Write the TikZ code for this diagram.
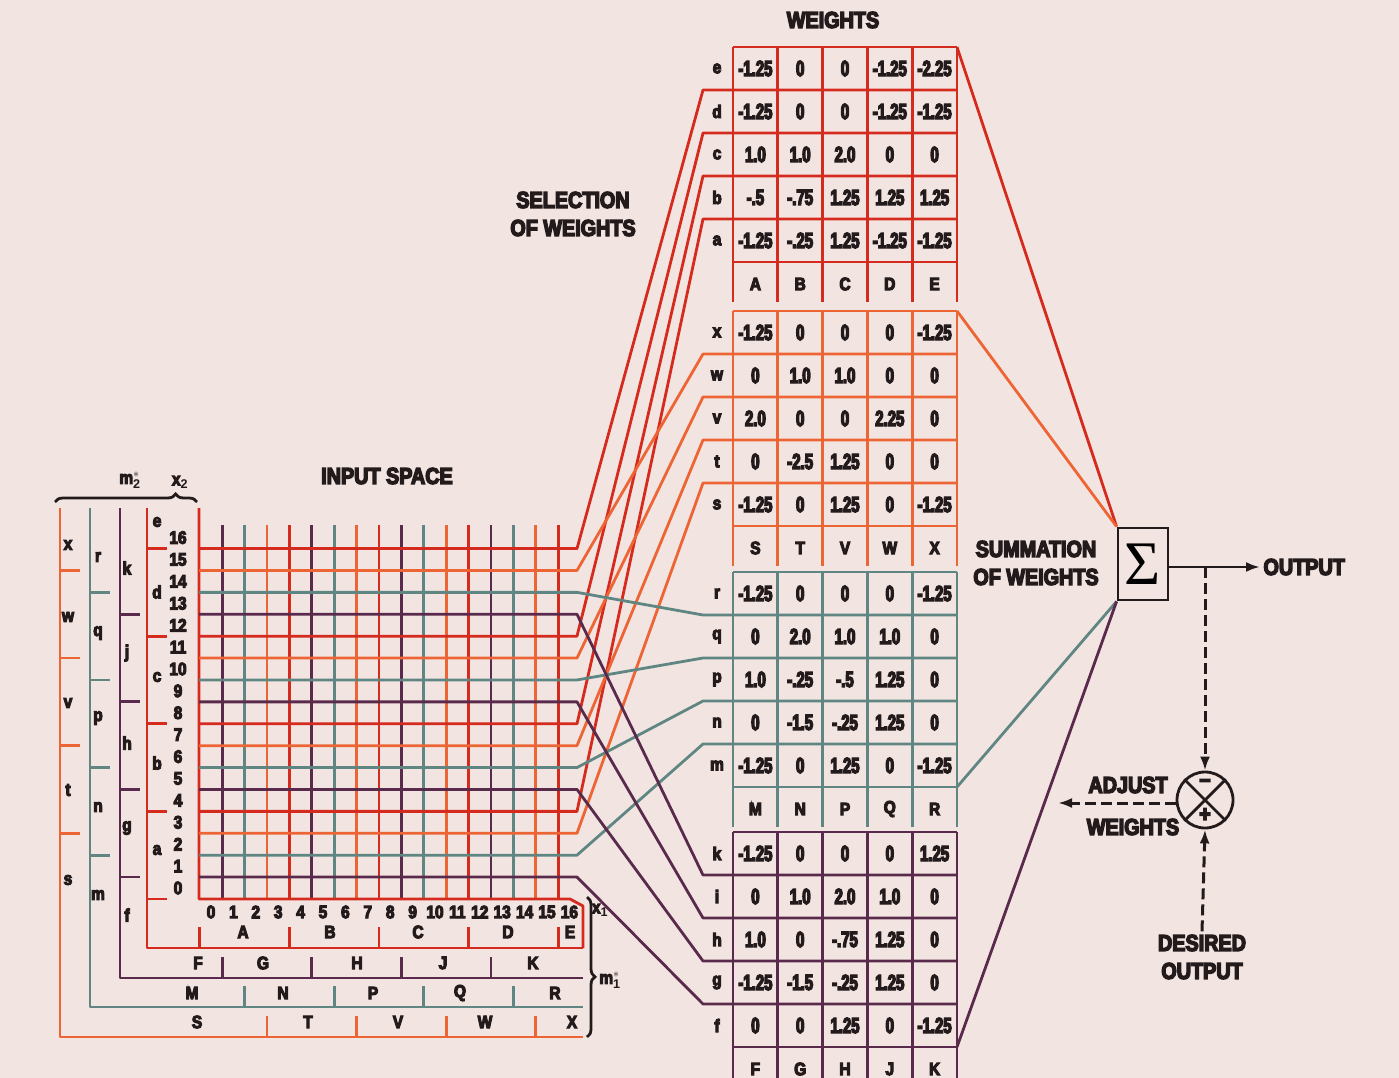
\documentclass[tikz,border=0pt]{standalone}
\usepackage{fontspec}
\usepackage{graphicx}
\setmainfont{Liberation Sans}
\newfontfamily\numfont{Liberation Sans}[UprightFont={* Bold},BoldFont={* Bold},FakeStretch=0.68,FakeBold=6]
\newfontfamily\capfont{Liberation Sans}[UprightFont={* Bold},BoldFont={* Bold},FakeStretch=0.86,FakeBold=6]
\newfontfamily\sigfont{Liberation Serif}
\usetikzlibrary{arrows.meta,decorations.pathreplacing}
\definecolor{paper}{HTML}{F2E5E1}
\definecolor{qred}{HTML}{D52B1E}
\definecolor{qorange}{HTML}{EE6535}
\definecolor{qgreen}{HTML}{5F8683}
\definecolor{qpurple}{HTML}{5A2A4C}
\definecolor{ink}{HTML}{231A1C}

\tikzset{
  wire/.style={line width=2.8pt, line join=round},
  numtext/.style={font=\numfont\fontsize{22}{22}\selectfont, text=ink, inner sep=1pt},
  lettext/.style={font=\capfont\fontsize{18}{18}\selectfont, text=ink, inner sep=1pt},
  captext/.style={font=\capfont\fontsize{23}{28}\selectfont, text=ink, align=center},
  dashwire/.style={line width=3pt, ink, dash pattern=on 11pt off 5pt},
}

% one weight table: name, top, colour, row labels, column labels, values
\newcommand\wtable[6]{%
  \begin{scope}[shift={(0,#2)}]
    \draw[wire,#3] (733,0) -- (957,0) (733,215) -- (957,215);
    \foreach \i in {0,...,5} \draw[wire,#3] ({733+44.8*\i},0) -- ++(0,255);
    \foreach \l [count=\j from 0] in {#4}
      \node[lettext] (#1-r\j) at (717,{21.5+43*\j}) {\l};
    \foreach \l [count=\i from 0] in {#5}
      \node[lettext] (#1-c\i) at ({755.4+44.8*\i},237) {\l};
    \foreach \row [count=\j from 0] in {#6}
      \foreach \v [count=\i from 0] in \row
        \node[numtext] (#1-\j-\i) at ({755.4+44.8*\i},{21.5+43*\j}) {\v};
    \coordinate (#1-ne) at (957,0);
    \coordinate (#1-se) at (957,215);
  \end{scope}}

\begin{document}
\begin{tikzpicture}[x=1pt,y=-1pt]
  \fill[paper] (0,0) rectangle (1399,1078);
  \useasboundingbox (0,0) rectangle (1399,1078);

  % quantizer strips for x2 (left) and x1 (bottom)
  \draw[wire,qorange] (60,508) -- (60,1037) -- (583,1037);
  \draw[wire,qgreen] (90,508) -- (90,1007) -- (583,1007);
  \draw[wire,qpurple] (120,508) -- (120,978) -- (583,978);
  \draw[wire,qred] (147,508) -- (147,948) -- (583,948);
  \foreach \c/\xo/\yo/\bz in {qred/147/948/-0.5, qpurple/120/978/0.5, qgreen/90/1007/1.5, qorange/60/1037/2.5}
    \foreach \m in {0,...,3} {
      \draw[wire,\c] (\xo,{888-21.9*(\bz+4*\m)}) -- ++(20,0);
      \draw[wire,\c] ({211+22.4*(\bz+4*\m)},\yo) -- ++(0,-21);
    }
  \draw[wire,qred] (147,{888-21.9*15.5}) -- ++(20,0);
  \draw[wire,qred] ({211+22.4*15.5},948) -- ++(0,-21);

  % input space grid
  \foreach \c/\bz in {qpurple/0.5, qgreen/1.5, qorange/2.5, qred/3.5}
    \foreach \m in {0,...,3}
      \draw[wire,\c] ({211+22.4*(\bz+4*\m)},525) -- ({211+22.4*(\bz+4*\m)},899);
  \draw[wire,qred] (199,508) -- (199,899) -- (570,899) -- (583,906) -- (583,948);

  % selection lines: grid rows to table rows
  \foreach \c/\bz/\T in {qred/15.5/47, qorange/14.5/311, qgreen/13.5/572, qpurple/12.5/832}
    \foreach \j in {1,...,4} {
      \pgfmathsetmacro\yg{888-21.9*(\bz-4*(\j-1))}
      \draw[wire,\c] (199,\yg) -- (577,\yg) -- (703,{\T+43*\j}) -- (957,{\T+43*\j});
    }

  % weight tables
  \wtable{tA}{47}{qred}{e,d,c,b,a}{A,B,C,D,E}{{-1.25,0,0,-1.25,-2.25},{-1.25,0,0,-1.25,-1.25},{1.0,1.0,2.0,0,0},{-.5,-.75,1.25,1.25,1.25},{-1.25,-.25,1.25,-1.25,-1.25}}
  \wtable{tS}{311}{qorange}{x,w,v,t,s}{S,T,V,W,X}{{-1.25,0,0,0,-1.25},{0,1.0,1.0,0,0},{2.0,0,0,2.25,0},{0,-2.5,1.25,0,0},{-1.25,0,1.25,0,-1.25}}
  \wtable{tM}{572}{qgreen}{r,q,p,n,m}{M,N,P,Q,R}{{-1.25,0,0,0,-1.25},{0,2.0,1.0,1.0,0},{1.0,-.25,-.5,1.25,0},{0,-1.5,-.25,1.25,0},{-1.25,0,1.25,0,-1.25}}
  \wtable{tF}{832}{qpurple}{k,i,h,g,f}{F,G,H,J,K}{{-1.25,0,0,0,1.25},{0,1.0,2.0,1.0,0},{1.0,0,-.75,1.25,0},{-1.25,-1.5,-.25,1.25,0},{0,0,1.25,0,-1.25}}

  % axis numbers
  \foreach \v in {0,...,16} {
    \node[lettext] (ylab\v) at (178,{888-21.9*\v}) {\v};
    \node[lettext] (xlab\v) at ({211+22.4*\v},912) {\v};
  }
  % strip letters
  \foreach \l/\x/\y in {x/68/545, w/68/617, v/68/703, t/68/790, s/68/880,
      r/98/557, q/98/633, p/98/718, n/98/807, m/98/895,
      k/127/568, j/127/653, h/127/743, g/127/828, f/127/915,
      e/157/522, d/157/592, c/157/677, b/157/763, a/157/850}
    \node[lettext] (s-\l) at (\x,\y) {\l};
  \foreach \l/\x/\y in {A/243/932, B/330/932, C/418/932, D/508/932, E/570/932,
      F/198/963, G/263/963, H/357/963, J/443/963, K/533/963,
      M/192/993, N/283/993, P/373/993, Q/460/993, R/555/993,
      S/197/1022, T/308/1022, V/398/1022, W/485/1022, X/572/1022}
    \node[lettext] (b-\l) at (\x,\y) {\l};

  % braces and axis names
  \draw[line width=2.8pt, ink, decorate, decoration={brace, amplitude=8pt, aspect=0.85}] (55,502) -- (197,502);
  \draw[line width=2.8pt, ink, decorate, decoration={brace, amplitude=8pt, aspect=0.57}] (587,897) -- (587,1037);
  \node[lettext] (m2) at (130,480) {m$_{\mathbf{2}}^{*}$};
  \node[lettext] (x2) at (180,482) {x$_{\mathbf{2}}$};
  \node[lettext] (x1) at (600,910) {x$_{\mathbf{1}}$};
  \node[lettext] (m1) at (610,980) {m$_{\mathbf{1}}^{*}$};

  % captions
  \node[captext] (wt) at (833,20) {WEIGHTS};
  \node[captext] (sel) at (573,214) {SELECTION\\OF WEIGHTS};
  \node[captext] (inp) at (387,476) {INPUT SPACE};
  \node[captext] (sum) at (1036,563) {SUMMATION\\OF WEIGHTS};

  % summation and learning loop
  \node[draw=ink, line width=2.8pt, minimum width=50pt, minimum height=72pt, inner sep=0pt] (sigma) at (1143,564)
    {\sigfont\fontsize{62}{62}\selectfont\raisebox{-2pt}{Σ}};
  \draw[wire,qred] (tA-ne) -- (sigma.north west);
  \draw[wire,qorange] (tS-ne) -- (sigma.north west);
  \draw[wire,qgreen] (tM-se) -- (sigma.south west);
  \draw[wire,qpurple] (tF-se) -- (sigma.south west);

  \node[captext, anchor=west] (out) at (1260,567) {OUTPUT};
  \draw[line width=2.8pt, ink, -{Latex[length=14pt,width=10pt]}] (sigma.east |- out.west) -- (out.west);
  \coordinate (tap) at (1205,567);
  \node[circle, draw=ink, line width=2.8pt, minimum size=56pt, inner sep=0pt] (cmp) at (1205,800) {};
  \draw[line width=2.8pt, ink] (cmp.45) -- (cmp.225) (cmp.135) -- (cmp.-45);
  \node[captext] (minus) at (1205,783) {\textendash};
  \node[captext] (plus) at (1205,815) {+};
  \draw[dashwire, -{Latex[length=14pt,width=10pt]}] (tap) -- (cmp.north);
  \node[captext] (des) at (1202,957) {DESIRED\\OUTPUT};
  \draw[dashwire, -{Latex[length=14pt,width=10pt]}] (des.north) -- (cmp.south);
  \coordinate (adj) at (1058,803);
  \draw[dashwire, -{Latex[length=14pt,width=10pt]}] (cmp.west |- adj) -- (adj);
  \node[captext] (adj1) at (1128,785) {ADJUST};
  \node[captext] (adj2) at (1133,827) {WEIGHTS};
\end{tikzpicture}
\end{document}
